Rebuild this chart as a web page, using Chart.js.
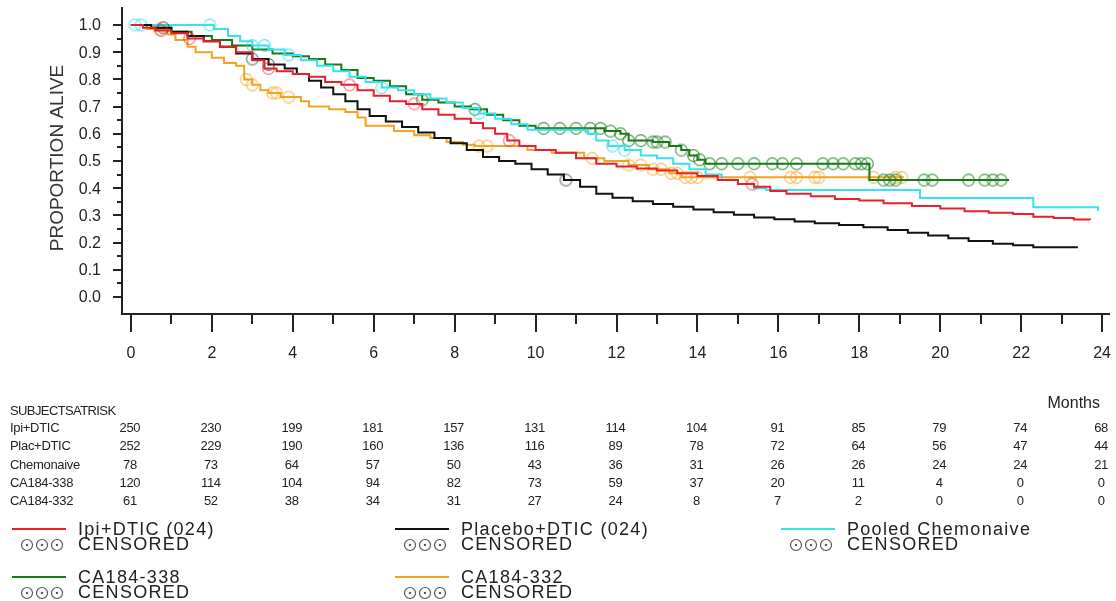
<!DOCTYPE html>
<html>
<head>
<meta charset="utf-8">
<script src="https://cdn.jsdelivr.net/npm/chart.js@4.4.1/dist/chart.umd.min.js"></script>
<style>
  html, body { margin: 0; padding: 0; background: #fff; }
  #wrap { width: 1116px; height: 601px; }
</style>
</head>
<body>
<div id="wrap"><canvas id="km" width="1116" height="601"></canvas></div>
<script>
// Kaplan-Meier curves (months, proportion alive)
const ipiTimes = [0, 0.3, 0.6, 1.0, 1.4, 1.8, 2.2, 2.6, 3.0, 3.3, 3.6, 4.0, 4.4, 4.8, 5.2, 5.6, 6.0, 6.4, 6.8, 7.2, 7.6, 8.0, 8.4, 8.7, 9.0, 9.3, 9.6, 10.0, 10.5, 11.0, 11.5, 12.0, 12.5, 13.0, 13.5, 14.0, 14.5, 15.0, 15.4, 15.8, 16.2, 16.8, 17.4, 18.0, 18.6, 19.3, 20.0, 20.6, 21.2, 21.8, 22.3, 22.8, 23.3, 23.7]
const ipiSurv = [1.0, 0.99, 0.98, 0.97, 0.95, 0.94, 0.92, 0.9, 0.87, 0.84, 0.83, 0.82, 0.81, 0.79, 0.78, 0.76, 0.74, 0.72, 0.71, 0.69, 0.67, 0.655, 0.64, 0.62, 0.6, 0.575, 0.555, 0.54, 0.53, 0.51, 0.49, 0.48, 0.472, 0.465, 0.455, 0.445, 0.43, 0.415, 0.405, 0.39, 0.38, 0.37, 0.36, 0.355, 0.345, 0.335, 0.325, 0.315, 0.31, 0.305, 0.295, 0.29, 0.285, 0.283]
const ipiCensor = [0.75, 1.45, 3.4, 5.4, 7.0, 9.35, 15.35]

const placTimes = [0, 0.5, 1.0, 1.4, 1.8, 2.2, 2.6, 3.0, 3.4, 3.8, 4.1, 4.4, 4.7, 5.0, 5.3, 5.6, 5.9, 6.3, 6.7, 7.1, 7.5, 7.9, 8.3, 8.7, 9.1, 9.5, 9.9, 10.3, 10.7, 11.1, 11.5, 11.9, 12.4, 12.9, 13.4, 13.9, 14.4, 14.9, 15.4, 15.9, 16.4, 16.9, 17.5, 18.1, 18.7, 19.2, 19.7, 20.2, 20.7, 21.3, 21.8, 22.3, 23.4]
const placSurv = [1.0, 0.99, 0.975, 0.96, 0.94, 0.92, 0.895, 0.875, 0.855, 0.84, 0.82, 0.795, 0.77, 0.745, 0.72, 0.69, 0.665, 0.645, 0.625, 0.605, 0.585, 0.565, 0.54, 0.515, 0.5, 0.49, 0.47, 0.45, 0.43, 0.405, 0.38, 0.365, 0.352, 0.342, 0.332, 0.322, 0.312, 0.302, 0.292, 0.286, 0.278, 0.271, 0.265, 0.256, 0.246, 0.236, 0.226, 0.216, 0.206, 0.196, 0.19, 0.183, 0.183]
const placCensor = [0.8, 3.0, 3.4, 10.75]

const chemoTimes = [0, 2.05, 2.4, 2.7, 3.0, 3.4, 3.8, 4.2, 4.6, 5.0, 5.4, 5.8, 6.2, 6.6, 7.0, 7.4, 7.8, 8.2, 8.6, 9.0, 9.4, 9.8, 11.3, 11.5, 11.8, 12.2, 12.6, 13.0, 13.4, 13.8, 14.2, 14.6, 15.0, 15.4, 15.7, 19.5, 22.3, 23.9]
const chemoSurv = [1.0, 0.985, 0.96, 0.94, 0.925, 0.91, 0.89, 0.87, 0.85, 0.83, 0.81, 0.79, 0.77, 0.76, 0.745, 0.73, 0.715, 0.695, 0.675, 0.655, 0.635, 0.615, 0.6, 0.575, 0.555, 0.54, 0.52, 0.51, 0.49, 0.47, 0.45, 0.43, 0.415, 0.4, 0.393, 0.364, 0.33, 0.316]
const chemoCensor = [0.1, 0.25, 1.95, 3.0, 3.3, 3.9, 6.2, 8.6, 11.9, 12.2]

const s338Times = [0, 0.5, 1.0, 1.5, 2.0, 2.5, 3.0, 3.5, 4.0, 4.4, 4.8, 5.2, 5.6, 6.0, 6.4, 6.8, 7.2, 7.6, 8.0, 8.4, 8.8, 9.2, 9.6, 10.0, 11.7, 12.1, 12.3, 12.9, 13.3, 13.6, 13.8, 14.0, 14.2, 18.25, 21.7]
const s338Surv = [1.0, 0.99, 0.975, 0.96, 0.945, 0.925, 0.91, 0.895, 0.885, 0.875, 0.855, 0.835, 0.805, 0.795, 0.775, 0.745, 0.725, 0.715, 0.7, 0.69, 0.67, 0.65, 0.63, 0.62, 0.61, 0.6, 0.575, 0.57, 0.555, 0.54, 0.52, 0.505, 0.49, 0.43, 0.43]
const s338Censor = [7.2, 8.5, 10.2, 10.6, 11.0, 11.35, 11.6, 11.85, 12.1, 12.3, 12.6, 12.9, 13.0, 13.2, 13.6, 13.9, 14.05, 14.3, 14.6, 15.0, 15.4, 15.85, 16.1, 16.45, 17.1, 17.35, 17.6, 17.9, 18.05, 18.2, 18.6, 18.75, 18.9, 19.6, 19.8, 20.7, 21.1, 21.3, 21.5]

const s332Times = [0, 0.4, 0.9, 1.1, 1.4, 1.6, 2.0, 2.3, 2.6, 2.8, 3.0, 3.2, 3.4, 3.7, 4.2, 4.4, 4.9, 5.3, 5.6, 5.8, 6.5, 7.0, 7.4, 7.8, 8.2, 8.5, 9.8, 10.4, 11.2, 11.7, 12.3, 12.8, 13.3, 13.6, 19.1]
const s332Surv = [1.0, 0.985, 0.965, 0.945, 0.92, 0.9, 0.88, 0.86, 0.85, 0.8, 0.78, 0.76, 0.75, 0.735, 0.72, 0.7, 0.69, 0.68, 0.66, 0.63, 0.61, 0.595, 0.585, 0.57, 0.56, 0.555, 0.54, 0.53, 0.51, 0.5, 0.485, 0.47, 0.455, 0.44, 0.44]
const s332Censor = [0.7, 2.85, 3.0, 3.5, 3.6, 3.9, 8.6, 8.8, 11.4, 12.3, 12.6, 12.9, 13.1, 13.35, 13.5, 13.7, 13.85, 14.0, 15.3, 16.3, 16.45, 16.9, 17.0, 18.35, 18.9, 19.05]

// subjects at risk table
const riskTimes = [0, 2, 4, 6, 8, 10, 12, 14, 16, 18, 20, 22, 24]
const riskLabels = ["Ipi+DTIC", "Plac+DTIC", "Chemonaive", "CA184-338", "CA184-332"]
const ipiRisk = [250, 230, 199, 181, 157, 131, 114, 104, 91, 85, 79, 74, 68]
const placRisk = [252, 229, 190, 160, 136, 116, 89, 78, 72, 64, 56, 47, 44]
const chemoRisk = [78, 73, 64, 57, 50, 43, 36, 31, 26, 26, 24, 24, 21]
const s338Risk = [120, 114, 104, 94, 82, 73, 59, 37, 20, 11, 4, 0, 0]
const s332Risk = [61, 52, 38, 34, 31, 27, 24, 8, 7, 2, 0, 0, 0]

const seriesNames = ["Ipi+DTIC (024)", "Placebo+DTIC (024)", "Pooled Chemonaive", "CA184-338", "CA184-332"]
const xTicks = [0, 2, 4, 6, 8, 10, 12, 14, 16, 18, 20, 22, 24]
const yTicks = [0, 0.1, 0.2, 0.3, 0.4, 0.5, 0.6, 0.7, 0.8, 0.9, 1.0]

const colors = ["#e8202a", "#111111", "#35e2ee", "#177a17", "#f3a31e"]
const censorColors = ["rgba(232,32,42,0.6)", "rgba(30,30,30,0.6)", "rgba(40,215,230,0.7)", "rgba(23,122,23,0.75)", "rgba(243,163,30,0.7)"]
const FONT = "'Liberation Sans', Arial, sans-serif"

function toPoints(times, surv) {
  return times.map((t, i) => ({ x: t, y: surv[i] }))
}

function survAt(times, surv, t) {
  let s = surv[0]
  for (let i = 0; i < times.length; i++) {
    if (times[i] <= t) s = surv[i]
  }
  return s
}

function censorMark(color) {
  const c = document.createElement("canvas")
  c.width = 15
  c.height = 15
  const g = c.getContext("2d")
  g.strokeStyle = color
  g.lineWidth = 1.2
  g.beginPath()
  g.arc(7.5, 7.5, 5.8, 0, Math.PI * 2)
  g.stroke()
  g.fillStyle = color
  g.beginPath()
  g.arc(7.5, 7.5, 1, 0, Math.PI * 2)
  g.fill()
  return c
}

const series = [
  [ipiTimes, ipiSurv, ipiCensor],
  [placTimes, placSurv, placCensor],
  [chemoTimes, chemoSurv, chemoCensor],
  [s338Times, s338Surv, s338Censor],
  [s332Times, s332Surv, s332Censor],
]
const riskRows = [ipiRisk, placRisk, chemoRisk, s338Risk, s332Risk]

const datasets = []
series.forEach(([times, surv, cens], i) => {
  datasets.push({
    data: toPoints(times, surv),
    showLine: true,
    stepped: true,
    borderColor: colors[i],
    borderWidth: 2,
    pointRadius: 0,
  })
  datasets.push({
    data: cens.map((t) => ({ x: t, y: survAt(times, surv, t) })),
    showLine: false,
    pointStyle: censorMark(censorColors[i]),
    pointRadius: 6,
  })
})

const extras = {
  id: "extras",
  afterDraw(chart) {
    const ctx = chart.ctx
    const xs = chart.scales.x
    const ys = chart.scales.y
    const area = chart.chartArea
    ctx.save()
    ctx.strokeStyle = "#222"
    ctx.lineWidth = 2

    // tick marks
    for (let m = 0; m <= 24; m++) {
      const px = Math.round(xs.getPixelForValue(m))
      ctx.beginPath()
      ctx.moveTo(px, area.bottom)
      ctx.lineTo(px, area.bottom + (m % 2 === 0 ? 18 : 10))
      ctx.stroke()
    }
    for (let k = 0; k <= 20; k++) {
      const py = Math.round(ys.getPixelForValue(k * 0.05))
      ctx.beginPath()
      ctx.moveTo(area.left, py)
      ctx.lineTo(area.left - (k % 2 === 0 ? 9 : 5), py)
      ctx.stroke()
    }

    // tick labels
    ctx.fillStyle = "#222"
    ctx.font = "16px " + FONT
    ctx.textBaseline = "middle"
    ctx.textAlign = "center"
    xTicks.forEach((v) => ctx.fillText(String(v), xs.getPixelForValue(v), 354))
    ctx.textAlign = "right"
    yTicks.forEach((v) => ctx.fillText(v.toFixed(1), 101, ys.getPixelForValue(v) + 1))

    // y title
    ctx.fillStyle = "#333"
    ctx.font = "19px " + FONT
    ctx.textAlign = "center"
    ctx.translate(58, 158)
    ctx.rotate(-Math.PI / 2)
    ctx.fillText("PROPORTION ALIVE", 0, 0)
    ctx.restore()

    ctx.save()
    ctx.fillStyle = "#222"
    ctx.textBaseline = "middle"
    ctx.font = "16px " + FONT
    ctx.textAlign = "right"
    ctx.fillText("Months", 1100, 404)

    // at-risk table
    ctx.font = "13px " + FONT
    ctx.textAlign = "left"
    ctx.letterSpacing = "-0.6px"
    ctx.fillText("SUBJECTSATRISK", 10, 411)
    ctx.letterSpacing = "-0.3px"
    const rowY = [428, 446, 465, 483, 501]
    riskLabels.forEach((lab, r) => {
      ctx.textAlign = "left"
      ctx.fillText(lab, 10, rowY[r])
      ctx.textAlign = "center"
      riskRows[r].forEach((n, c) => {
        ctx.fillText(String(n), xs.getPixelForValue(riskTimes[c]) - 1, rowY[r])
      })
    })

    // legend
    ctx.letterSpacing = "1.3px"
    ctx.font = "18px " + FONT
    ctx.textAlign = "left"
    const slots = [[12, 529], [395, 529], [781, 529], [12, 577], [395, 577]]
    seriesNames.forEach((name, i) => {
      const [lx, ly] = slots[i]
      ctx.strokeStyle = colors[i]
      ctx.lineWidth = 2
      ctx.beginPath()
      ctx.moveTo(lx, ly)
      ctx.lineTo(lx + 54, ly)
      ctx.stroke()
      ctx.fillStyle = "#222"
      ctx.fillText(name, lx + 66, ly + 1)
      ctx.fillText("CENSORED", lx + 66, ly + 16)
      ctx.strokeStyle = "#555"
      ctx.fillStyle = "#555"
      ctx.lineWidth = 1.2
      for (let k = 0; k < 3; k++) {
        const cx = lx + 15 + k * 15
        ctx.beginPath()
        ctx.arc(cx, ly + 16, 5.5, 0, Math.PI * 2)
        ctx.stroke()
        ctx.beginPath()
        ctx.arc(cx, ly + 16, 1.2, 0, Math.PI * 2)
        ctx.fill()
      }
    })
    ctx.restore()
  },
}

new Chart(document.getElementById("km"), {
  type: "scatter",
  data: { datasets },
  options: {
    responsive: false,
    animation: false,
    layout: { padding: { top: 8, right: 6, left: 0, bottom: 0 } },
    plugins: {
      legend: { display: false },
      tooltip: { enabled: false },
    },
    scales: {
      x: {
        type: "linear",
        min: -0.22,
        max: 24.17,
        afterBuildTicks: (s) => {
          s.ticks = xTicks.map((v) => ({ value: v }))
        },
        afterFit: (s) => {
          s.height = 287
        },
        ticks: { display: false },
        grid: { display: false, drawTicks: false },
        border: { display: true, color: "#222", width: 2 },
      },
      y: {
        type: "linear",
        min: -0.0625,
        max: 1.0625,
        afterBuildTicks: (s) => {
          s.ticks = yTicks.map((v) => ({ value: v }))
        },
        afterFit: (s) => {
          s.width = 122
        },
        ticks: { display: false },
        grid: { display: false, drawTicks: false },
        border: { display: true, color: "#222", width: 2 },
      },
    },
  },
  plugins: [extras],
})
</script>
</body>
</html>
